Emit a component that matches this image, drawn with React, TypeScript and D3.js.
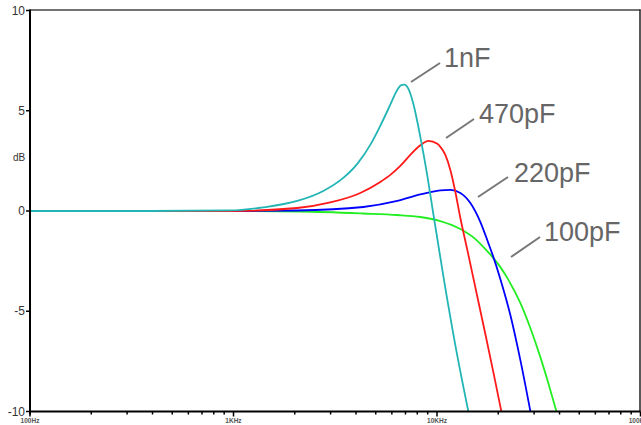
import React, { useEffect, useRef } from "react";
import * as d3 from "d3";

// Frequency response (Hz, dB)
const series1nF_f = [100, 389, 963, 1399, 2056, 2761, 3463, 4057, 4700, 5264, 5895, 6310, 6678, 6910, 7228, 7650, 8280, 8967, 9594, 10745, 12310, 14260];
const series1nF_db = [0, 0, 0.03, 0.18, 0.5, 1.0, 1.65, 2.35, 3.3, 4.25, 5.3, 5.95, 6.275, 6.3, 6.1, 5.35, 3.7, 1.75, -0.15, -3.25, -6.7, -10];

const series470_f = [100, 963, 2056, 2988, 4198, 5264, 5895, 6603, 7395, 8280, 9070, 10040, 10385, 10990, 11630, 12310, 13025, 14100, 15090, 17290, 18930, 20720];
const series470_db = [0, 0, 0.15, 0.425, 0.9, 1.45, 1.8, 2.25, 2.8, 3.275, 3.5, 3.35, 3.2, 2.8, 2.05, 0.95, -0.35, -1.95, -3.35, -6.15, -8.05, -10];

const series220_f = [100, 963, 2056, 4342, 6383, 8280, 10385, 11630, 13025, 14590, 16340, 17880, 18930, 20490, 22950, 25700, 28780];
const series220_db = [0, 0, 0.025, 0.2, 0.5, 0.825, 1.025, 1.05, 0.9, 0.4, -0.55, -1.6, -2.3, -3.4, -5.2, -7.45, -10];

const series100_f = [100, 963, 2128, 4342, 6383, 8280, 10385, 13025, 15440, 17290, 18930, 20490, 22180, 25700, 28780, 32230, 35280, 38640];
const series100_db = [0, 0, -0.025, -0.125, -0.2, -0.3, -0.5, -0.9, -1.4, -1.9, -2.35, -2.8, -3.35, -4.6, -5.85, -7.3, -8.6, -10];

const seriesNames = ["100pF", "220pF", "470pF", "1nF"];
const seriesColors = ["#22ee22", "#0000ff", "#ff1a1a", "#22b5b5"];

const yTicks = [10, 5, 0, -5, -10];
const xMajor = [100, 1000, 10000, 100000];
const xMajorLabels = ["100Hz", "1KHz", "10KHz", "100KHz"];

const labelTexts = ["1nF", "470pF", "220pF", "100pF"];

export default function App() {
  const ref = useRef<SVGSVGElement | null>(null);

  useEffect(() => {
    document.body.style.margin = "0";
    const svg = d3.select(ref.current);
    svg.selectAll("*").remove();

    const left = 30, right = 640.5, top = 10.5, bottom = 411.5;
    const x = d3.scaleLog().domain([100, 100000]).range([left, right]);
    const y = d3.scaleLinear().domain([-10, 10]).range([bottom, top]);

    const g = svg.append("g");

    // frame top/right
    g.append("line").attr("x1", left).attr("x2", right).attr("y1", top - 0.5).attr("y2", top - 0.5)
      .attr("stroke", "#444").attr("stroke-width", 1.5);
    g.append("line").attr("x1", right - 0.5).attr("x2", right - 0.5).attr("y1", top - 1).attr("y2", bottom)
      .attr("stroke", "#222").attr("stroke-width", 1.5);

    const clipId = "plotclip";
    svg.append("defs").append("clipPath").attr("id", clipId)
      .append("rect").attr("x", left).attr("y", top - 2).attr("width", right - left).attr("height", bottom - top + 2);

    const line = d3.line<[number, number]>()
      .x(d => x(d[0]))
      .y(d => y(d[1]))
      .curve(d3.curveMonotoneX);

    const allF = [series100_f, series220_f, series470_f, series1nF_f];
    const allD = [series100_db, series220_db, series470_db, series1nF_db];
    const cg = g.append("g").attr("clip-path", `url(#${clipId})`);
    allF.forEach((fs, i) => {
      const pts: [number, number][] = fs.map((f, k) => [f, allD[i][k]]);
      cg.append("path").attr("d", line(pts) || "")
        .attr("fill", "none").attr("stroke", seriesColors[i]).attr("stroke-width", 1.8)
        .attr("stroke-linejoin", "round")
        .attr("data-name", seriesNames[i]);
    });

    // left axis
    g.append("line").attr("x1", left).attr("x2", left).attr("y1", top - 1).attr("y2", bottom + 3)
      .attr("stroke", "#000").attr("stroke-width", 2);
    yTicks.forEach(t => {
      g.append("line").attr("x1", left - 4).attr("x2", left).attr("y1", y(t)).attr("y2", y(t))
        .attr("stroke", "#000").attr("stroke-width", 1.5);
      g.append("text").attr("x", left - 5).attr("y", y(t)).attr("dy", "0.35em")
        .attr("text-anchor", "end").attr("font-family", "Liberation Sans, Arial, sans-serif")
        .attr("font-size", 12).attr("fill", "#333").text(String(t));
    });
    g.append("text").attr("x", 19).attr("y", 161).attr("text-anchor", "middle")
      .attr("font-family", "Liberation Sans, Arial, sans-serif").attr("font-size", 10).attr("fill", "#333").text("dB");

    // bottom axis
    g.append("line").attr("x1", left - 1).attr("x2", right).attr("y1", bottom).attr("y2", bottom)
      .attr("stroke", "#000").attr("stroke-width", 2);
    const minor: number[] = [];
    for (let dec = 100; dec < 100000; dec *= 10) {
      for (let m = 2; m <= 9; m++) minor.push(dec * m);
    }
    minor.forEach(f => {
      g.append("line").attr("x1", x(f)).attr("x2", x(f)).attr("y1", bottom).attr("y2", bottom + 3)
        .attr("stroke", "#000").attr("stroke-width", 1.5);
    });
    xMajor.forEach((f, i) => {
      g.append("line").attr("x1", x(f)).attr("x2", x(f)).attr("y1", bottom).attr("y2", bottom + 5)
        .attr("stroke", "#000").attr("stroke-width", 1.5);
      g.append("text").attr("x", x(f)).attr("y", 422.5).attr("text-anchor", "middle")
        .attr("font-family", "Liberation Sans, Arial, sans-serif").attr("font-size", 6.5)
        .attr("font-weight", "bold").attr("fill", "#555").text(xMajorLabels[i]);
    });

    // annotations
    const ann = [
      { t: labelTexts[0], lx1: 411, ly1: 82, lx2: 440, ly2: 63, tx: 444, ty: 67 },
      { t: labelTexts[1], lx1: 446, ly1: 138, lx2: 474, ly2: 119, tx: 479, ty: 123 },
      { t: labelTexts[2], lx1: 478, ly1: 197, lx2: 508, ly2: 177, tx: 514, ty: 182 },
      { t: labelTexts[3], lx1: 511, ly1: 257, lx2: 540, ly2: 237, tx: 544, ty: 241 },
    ];
    ann.forEach(a => {
      g.append("line").attr("x1", a.lx1).attr("y1", a.ly1).attr("x2", a.lx2).attr("y2", a.ly2)
        .attr("stroke", "#777").attr("stroke-width", 2);
      g.append("text").attr("x", a.tx).attr("y", a.ty)
        .attr("font-family", "Liberation Sans, Arial, sans-serif").attr("font-size", 27)
        .attr("fill", "#666").text(a.t);
    });
  }, []);

  return (
    <svg ref={ref} width={641} height={425}
      style={{ position: "absolute", left: 0, top: 0, background: "#fff", display: "block" }} />
  );
}
